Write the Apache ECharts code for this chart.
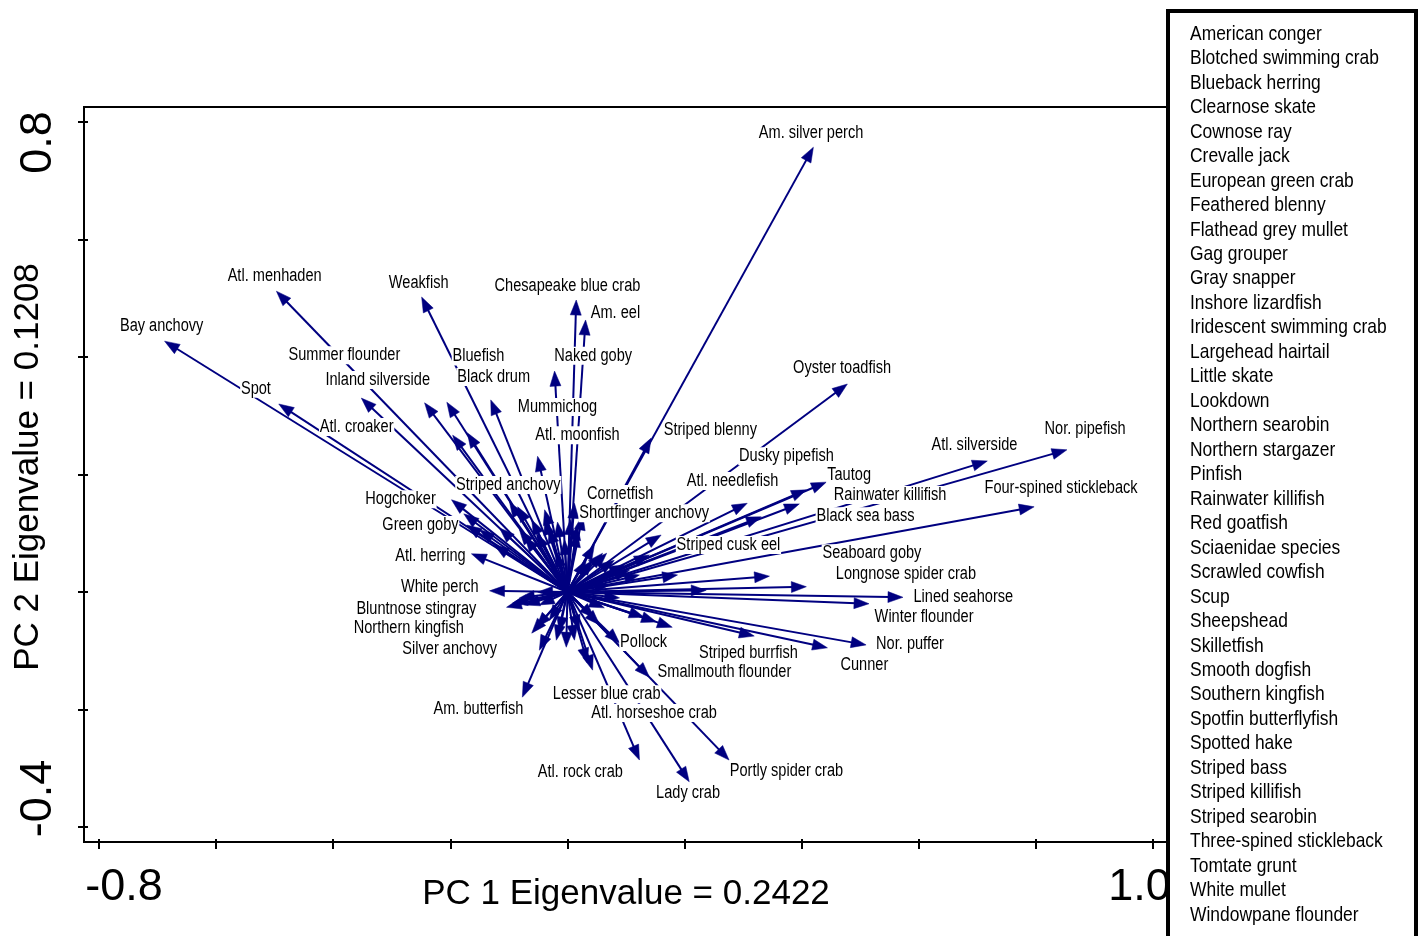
<!DOCTYPE html>
<html>
<head>
<meta charset="utf-8">
<script src="https://cdn.jsdelivr.net/npm/echarts@6/dist/echarts.min.js"></script>
<style>
  html, body { margin: 0; padding: 0; background: #fff; }
  #chart { width: 1421px; height: 936px; }
</style>
</head>
<body>
<div id="chart"></div>
<script>
// Species loadings on the first two principal components (arrow tips).
const pc1 = [
  -0.688, -0.497, -0.249, -0.493, -0.352, -0.244, -0.206, -0.131, -0.196, -0.171,
   0.015,  0.031, -0.022, -0.051,  0.420,  0.143,  0.478,  0.717,  0.853,  0.797,
   0.442,  0.408,  0.396,  0.307,  0.331,  0.160,  0.345,  0.408,  0.573,  0.515,
   0.510,  0.444,  0.319,  0.179,  0.152,  0.131,  0.140,  0.043,  0.123,  0.208,
   0.276, -0.077, -0.164, -0.133, -0.198, -0.177, -0.172,
   0.237,  0.188,  0.060,  0.043,
  -0.099, -0.085, -0.061, -0.082, -0.073, -0.053, -0.017, -0.019,  0.012,  0.017,
   0.017,  0.032,  0.067, -0.116, -0.039,
  -0.104, -0.094, -0.073, -0.051, -0.048,
  -0.053, -0.061, -0.048, -0.019, -0.002, -0.014,  0.020,  0.034,  0.089,  0.046,
   0.063,
   0.123,  0.097,  0.140,
  -0.039, -0.031, -0.005,  0.026,  0.005,  0.046,  0.080,  0.106,  0.072,  0.089,
   0.055,  0.012, -0.031, -0.082, -0.125, -0.150
];
const pc2 = [
   0.427,  0.512,  0.502,  0.320,  0.330,  0.322,  0.323,  0.327,  0.267,  0.271,
   0.497,  0.463,  0.376,  0.231,  0.757,  0.262,  0.354,  0.223,  0.242,  0.145,
   0.187,  0.174,  0.150,  0.151,  0.128,  0.097,  0.027,  0.009, -0.009, -0.020,
  -0.090, -0.095, -0.075, -0.060, -0.051, -0.043, -0.145, -0.133, -0.286, -0.323,
  -0.286, -0.179,  0.065,  0.002,  0.157,  0.133,  0.114,
   0.003,  0.029,  0.066,  0.054,
   0.153,  0.145,  0.123,  0.106,  0.094,  0.100,  0.119,  0.068,  0.151,  0.114,
   0.102,  0.054,  0.066,  0.109,  0.140,
  -0.026, -0.019, -0.022,  0.000, -0.022,
  -0.060, -0.070, -0.099, -0.082, -0.094, -0.068, -0.065, -0.121, -0.087, -0.044,
  -0.027,
   0.029,  0.046,  0.063,
   0.123,  0.109,  0.089,  0.131,  0.123,  0.080,  0.054,  0.037,  0.012, -0.010,
  -0.056, -0.082, -0.048, -0.010,  0.080,  0.106
];

// Species names written in the plot and where each name sits (PC units).
const labelNames = [
  'Am. silver perch', 'Atl. menhaden', 'Weakfish', 'Chesapeake blue crab', 'Am. eel',
  'Bay anchovy', 'Summer flounder', 'Bluefish', 'Naked goby', 'Oyster toadfish',
  'Inland silverside', 'Black drum', 'Spot', 'Mummichog', 'Atl. croaker',
  'Striped blenny', 'Nor. pipefish', 'Atl. moonfish', 'Atl. silverside', 'Dusky pipefish',
  'Tautog', 'Atl. needlefish', 'Striped anchovy', 'Four-spined stickleback', 'Cornetfish',
  'Rainwater killifish', 'Hogchoker', 'Shortfinger anchovy', 'Black sea bass', 'Green goby',
  'Striped cusk eel', 'Seaboard goby', 'Atl. herring', 'Longnose spider crab', 'White perch',
  'Lined seahorse', 'Bluntnose stingray', 'Winter flounder', 'Northern kingfish', 'Pollock',
  'Nor. puffer', 'Silver anchovy', 'Striped burrfish', 'Cunner', 'Smallmouth flounder',
  'Lesser blue crab', 'Am. butterfish', 'Atl. horseshoe crab', 'Atl. rock crab', 'Portly spider crab',
  'Lady crab'
];
const labelPC1 = [
   0.416, -0.500, -0.254,  0.000,  0.082,
  -0.693, -0.381, -0.152,  0.044,  0.469,
  -0.324, -0.126, -0.532, -0.017, -0.360,
   0.244,  0.884,  0.017,  0.695,  0.374,
   0.481,  0.282, -0.101,  0.843,  0.090,
   0.551, -0.285,  0.131,  0.509, -0.251,
   0.275,  0.520, -0.234,  0.578, -0.218,
   0.676, -0.258,  0.609, -0.271,  0.130,
   0.585, -0.201,  0.309,  0.507,  0.268,
   0.067, -0.152,  0.148,  0.022,  0.374,
   0.206
];
const labelPC2 = [
   0.781,  0.538,  0.526,  0.521,  0.475,
   0.453,  0.403,  0.401,  0.402,  0.381,
   0.361,  0.366,  0.346,  0.315,  0.281,
   0.276,  0.277,  0.267,  0.250,  0.231,
   0.199,  0.189,  0.182,  0.177,  0.167,
   0.165,  0.158,  0.134,  0.129,  0.114,
   0.080,  0.066,  0.061,  0.031,  0.009,
  -0.009, -0.029, -0.043, -0.061, -0.085,
  -0.089, -0.097, -0.104, -0.124, -0.136,
  -0.174, -0.199, -0.206, -0.306, -0.305,
  -0.342
];

// Species listed in the side key.
const legendSpecies = [
  'American conger', 'Blotched swimming crab', 'Blueback herring', 'Clearnose skate',
  'Cownose ray', 'Crevalle jack', 'European green crab', 'Feathered blenny',
  'Flathead grey mullet', 'Gag grouper', 'Gray snapper', 'Inshore lizardfish',
  'Iridescent swimming crab', 'Largehead hairtail', 'Little skate', 'Lookdown',
  'Northern searobin', 'Northern stargazer', 'Pinfish', 'Rainwater killifish',
  'Red goatfish', 'Sciaenidae species', 'Scrawled cowfish', 'Scup', 'Sheepshead',
  'Skilletfish', 'Smooth dogfish', 'Southern kingfish', 'Spotfin butterflyfish',
  'Spotted hake', 'Striped bass', 'Striped killifish', 'Striped searobin',
  'Three-spined stickleback', 'Tomtate grunt', 'White mullet', 'Windowpane flounder'
];

// Axis ticks and their printed labels.
const xTickValues = [-0.8, -0.6, -0.4, -0.2, 0, 0.2, 0.4, 0.6, 0.8, 1.0];
const xLabelValues = [-0.8, 1.0];
const xLabelText = ['-0.8', '1.0'];
const yTickValues = [-0.4, -0.2, 0, 0.2, 0.4, 0.6, 0.8];
const yLabelValues = [-0.4, 0.8];
const yLabelText = ['-0.4', '0.8'];
const xTitle = 'PC 1 Eigenvalue = 0.2422';
const yTitle = 'PC 2 Eigenvalue = 0.1208';

// ---- styling ----
const NAVY = '#000080';
const BASE_FONT = '"Liberation Sans", Arial, sans-serif';
// species names use a horizontally condensed sans
const NAME_SIZE = 18, NAME_SQUEEZE = 0.81;
const KEY_SIZE = 21, KEY_SQUEEZE = 0.83;

const arrowData = pc1.map((x, i) => [x, pc2[i]]);
const labelData = labelPC1.map((x, i) => [x, labelPC2[i]]);

function labelIndex(list, v) {
  return list.findIndex(a => Math.abs(a - v) < 1e-6);
}

const chart = echarts.init(document.getElementById('chart'), null, { renderer: 'canvas' });

const tickStyle = { color: '#000', width: 2 };
const tickFont = { fontSize: 45, fontFamily: BASE_FONT, color: '#000' };

const option = {
  animation: false,
  backgroundColor: '#fff',
  grid: {
    left: 84, right: 253, top: 107, bottom: 94,
    containLabel: false, outerBoundsMode: 'none',
    show: true, borderColor: '#000', borderWidth: 2, backgroundColor: 'transparent'
  },
  xAxis: [
    {
      type: 'value', min: -0.8256, max: 1.0256, position: 'bottom',
      splitLine: { show: false },
      axisLine: { show: false, onZero: false },
      axisTick: { show: true, inside: false, length: 7, lineStyle: tickStyle, customValues: xTickValues },
      axisLabel: {
        show: true, margin: 23, customValues: xLabelValues,
        formatter: v => { const i = labelIndex(xLabelValues, v); return '{x' + i + '|' + xLabelText[i] + '}'; },
        rich: {
          x0: Object.assign({ padding: [0, 0, 0, 50] }, tickFont),
          x1: Object.assign({ padding: [0, 27, 0, 0] }, tickFont)
        }
      },
      name: xTitle, nameLocation: 'middle', nameGap: 35, nameMoveOverlap: false,
      nameTextStyle: { fontSize: 35, fontFamily: BASE_FONT, color: '#000' }
    },
    {
      type: 'value', min: -0.8256, max: 1.0256, position: 'bottom',
      splitLine: { show: false }, axisLine: { show: false, onZero: false }, axisLabel: { show: false },
      axisTick: { show: true, inside: true, length: 3, lineStyle: tickStyle, customValues: xTickValues }
    }
  ],
  yAxis: [
    {
      type: 'value', min: -0.4255, max: 0.8255, position: 'left',
      splitLine: { show: false },
      axisLine: { show: false, onZero: false },
      axisTick: { show: true, inside: false, length: 6, lineStyle: tickStyle, customValues: yTickValues },
      axisLabel: {
        show: true, rotate: 90, margin: 23, customValues: yLabelValues,
        formatter: v => { const i = labelIndex(yLabelValues, v); return '{y' + i + '|' + yLabelText[i] + '}'; },
        rich: {
          y0: Object.assign({ padding: [0, 0, 0, 57] }, tickFont),
          y1: Object.assign({ padding: [0, 41, 0, 0] }, tickFont)
        }
      },
      name: yTitle, nameLocation: 'middle', nameGap: 38, nameMoveOverlap: false,
      nameTextStyle: { fontSize: 35, fontFamily: BASE_FONT, color: '#000', padding: [0, 0, 0, 15] }
    },
    {
      type: 'value', min: -0.4255, max: 0.8255, position: 'left',
      splitLine: { show: false }, axisLine: { show: false, onZero: false }, axisLabel: { show: false },
      axisTick: { show: true, inside: true, length: 4, lineStyle: tickStyle, customValues: yTickValues }
    }
  ],
  series: [
    {
      // arrows from the origin to each species loading
      type: 'custom',
      coordinateSystem: 'cartesian2d',
      xAxisIndex: 0, yAxisIndex: 0,
      data: arrowData,
      z: 2,
      silent: true,
      renderItem: function (params, api) {
        const o = api.coord([0, 0]);
        const t = api.coord([api.value(0), api.value(1)]);
        const dx = t[0] - o[0], dy = t[1] - o[1];
        const len = Math.hypot(dx, dy) || 1;
        const ux = dx / len, uy = dy / len;
        const headLen = Math.min(15, len * 0.7);
        const halfW = 5.5;
        const bx = t[0] - ux * headLen, by = t[1] - uy * headLen;
        return {
          type: 'group',
          children: [
            {
              type: 'line',
              shape: { x1: o[0], y1: o[1], x2: bx + ux * 2, y2: by + uy * 2 },
              style: { stroke: NAVY, lineWidth: 2 }
            },
            {
              type: 'polygon',
              shape: { points: [[t[0], t[1]], [bx - uy * halfW, by + ux * halfW], [bx + uy * halfW, by - ux * halfW]] },
              style: { fill: NAVY, stroke: NAVY, lineWidth: 0.5 }
            }
          ]
        };
      }
    },
    {
      // species names, each on a white box so arrows pass behind them
      type: 'custom',
      coordinateSystem: 'cartesian2d',
      xAxisIndex: 0, yAxisIndex: 0,
      data: labelData,
      z: 5,
      silent: true,
      renderItem: function (params, api) {
        const p = api.coord([api.value(0), api.value(1)]);
        return {
          type: 'text',
          x: p[0], y: p[1],
          scaleX: NAME_SQUEEZE,
          style: {
            text: labelNames[params.dataIndex],
            fill: '#000', fontSize: NAME_SIZE, fontFamily: BASE_FONT,
            align: 'center', verticalAlign: 'middle',
            backgroundColor: '#fff', padding: [0, 1]
          }
        };
      }
    }
  ],
  graphic: [
    {
      type: 'group', z: 100,
      children: [
        {
          type: 'rect',
          shape: { x: 1168, y: 11, width: 248, height: 960 },
          style: { fill: '#fff', stroke: '#000', lineWidth: 4 }
        }
      ].concat(legendSpecies.map((s, i) => ({
        type: 'text',
        x: 1190, y: 34 + i * 24.47,
        scaleX: KEY_SQUEEZE,
        style: {
          text: s, fill: '#000', fontSize: KEY_SIZE, fontFamily: BASE_FONT,
          align: 'left', verticalAlign: 'middle'
        }
      })))
    }
  ]
};

chart.setOption(option);
</script>
</body>
</html>
